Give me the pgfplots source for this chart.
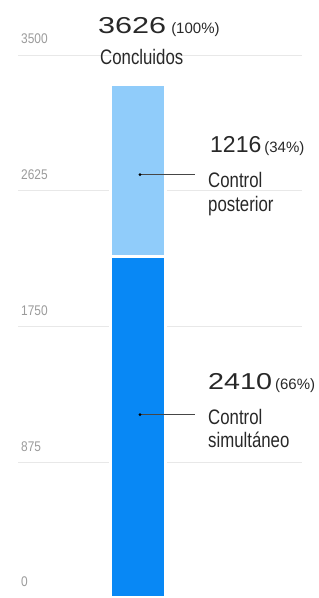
\documentclass[border=0pt]{standalone}
\usepackage{fontspec}
\setmainfont{Liberation Sans}
\newfontfamily\numfontA[FakeStretch=1.33]{Liberation Sans}
\newfontfamily\numfontB[FakeStretch=1.0]{Liberation Sans}
\newfontfamily\numfontC[FakeStretch=1.25]{Liberation Sans}
\newfontfamily\labfont[FakeStretch=0.8]{Liberation Sans}
\newfontfamily\tickfont[FakeStretch=0.85]{Liberation Sans}
\usepackage{pgfplots}
\pgfplotsset{compat=1.18}
\definecolor{lightbar}{RGB}{144,204,250}
\definecolor{darkbar}{RGB}{8,136,245}
\definecolor{gridc}{RGB}{232,232,232}
\definecolor{tickc}{RGB}{155,155,155}
\definecolor{txt}{RGB}{40,40,40}
\definecolor{conn}{RGB}{70,70,70}
\newcommand{\pct}[1]{{\fontsize{15}{16}\selectfont #1}}
\newcommand{\lab}[1]{{\labfont\fontsize{21}{22}\selectfont #1}}
\begin{document}
\begin{tikzpicture}
\begin{axis}[
  scale only axis,
  width=284pt, height=543pt,
  xmin=0, xmax=284,
  ymin=0, ymax=3835,
  clip=false,
  ybar stacked,
  bar width=55pt,
  axis line style={draw=none},
  major tick length=0pt,
  xtick=\empty,
  ytick={0,958.75,1917.5,2876.25,3835},
  yticklabels={0,875,1750,2625,3500},
  yticklabel style={anchor=base west, inner sep=0pt, xshift=3pt, yshift=11pt,
    font=\tickfont\fontsize{14}{14}\selectfont, text=tickc},
  ymajorgrids,
  grid style={draw=gridc, line width=0.9pt},
]
\addplot[fill=darkbar, draw=white, line width=3pt] coordinates {(120,2410)};
\addplot[fill=lightbar, draw=white, line width=3pt] coordinates {(120,1216)};
\coordinate (d1a) at (axis cs:122,2990);
\coordinate (d1b) at (axis cs:177,2990);
\coordinate (d2a) at (axis cs:122,1295);
\coordinate (d2b) at (axis cs:177,1295);
% labels
\node[anchor=base west, inner sep=0pt, text=txt] at (axis cs:80,3990) {{\numfontA\fontsize{23}{23}\selectfont 3626}\hspace{5pt}\pct{(100\%)}};
\node[anchor=base west, inner sep=0pt, text=txt] at (axis cs:82,3765) {\lab{Concluidos}};
\node[anchor=base west, inner sep=0pt, text=txt] at (axis cs:192,3143) {{\numfontB\fontsize{23}{23}\selectfont 1216}\hspace{3pt}\pct{(34\%)}};
\node[anchor=base west, inner sep=0pt, text=txt] at (axis cs:190,2896) {\lab{Control}};
\node[anchor=base west, inner sep=0pt, text=txt] at (axis cs:190,2733) {\lab{posterior}};
\node[anchor=base west, inner sep=0pt, text=txt] at (axis cs:190,1470) {{\numfontC\fontsize{23}{23}\selectfont 2410}\hspace{3pt}\pct{(66\%)}};
\node[anchor=base west, inner sep=0pt, text=txt] at (axis cs:190,1225) {\lab{Control}};
\node[anchor=base west, inner sep=0pt, text=txt] at (axis cs:190,1063) {\lab{simult\'aneo}};
\end{axis}
\draw[conn, line width=0.8pt] (d1a) -- (d1b);
\fill[black] (d1a) circle (1.6pt);
\draw[conn, line width=0.8pt] (d2a) -- (d2b);
\fill[black] (d2a) circle (1.6pt);
\pgfresetboundingbox
\path[use as bounding box] (-18pt,0pt) rectangle (301pt,598pt);
\end{tikzpicture}
\end{document}
